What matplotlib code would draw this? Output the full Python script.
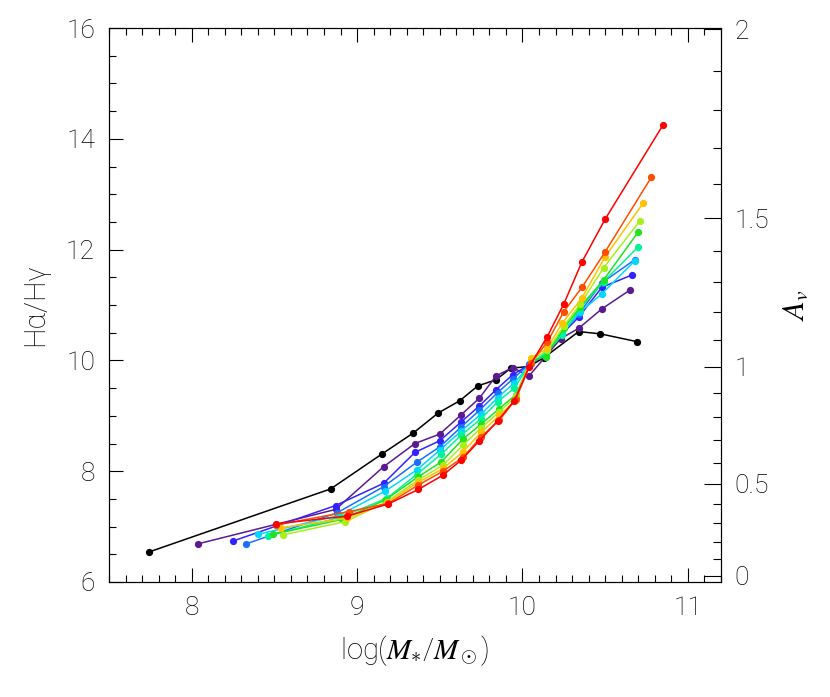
import numpy as np
import matplotlib
matplotlib.use("Agg")
import matplotlib.pyplot as plt
from matplotlib.ticker import MultipleLocator, FixedLocator

# series colours, black first then rainbow purple -> red
colors = ["black", "#5b1a8f", "#3322ff", "#1a6fff", "#00d8ff", "#00f59a",
          "#1fe31f", "#a6f01e", "#ffc200", "#ff4d00", "#ff0000"]

x_black = [7.74, 8.84, 9.15, 9.34, 9.49, 9.62, 9.73, 9.84, 9.93, 10.04, 10.13, 10.34, 10.47, 10.69]
y_black = [6.54, 7.68, 8.31, 8.69, 9.05, 9.27, 9.54, 9.65, 9.86, 9.89, 10.05, 10.52, 10.48, 10.34]

x_purple = [8.04, 8.87, 9.16, 9.35, 9.50, 9.63, 9.74, 9.84, 9.94, 10.04, 10.23, 10.34, 10.48, 10.65]
y_purple = [6.69, 7.31, 8.08, 8.50, 8.67, 9.02, 9.32, 9.72, 9.87, 9.72, 10.39, 10.58, 10.93, 11.27]

x_blue = [8.25, 8.87, 9.16, 9.35, 9.50, 9.63, 9.74, 9.84, 9.94, 10.04, 10.14, 10.23, 10.34, 10.48, 10.66]
y_blue = [6.74, 7.38, 7.78, 8.34, 8.55, 8.89, 9.18, 9.47, 9.74, 9.92, 10.10, 10.45, 10.78, 11.32, 11.54]

x_dblue = [8.33, 8.88, 9.16, 9.36, 9.50, 9.63, 9.74, 9.85, 9.94, 10.04, 10.14, 10.24, 10.34, 10.48, 10.68]
y_dblue = [6.69, 7.25, 7.72, 8.16, 8.44, 8.80, 9.10, 9.42, 9.66, 9.93, 10.12, 10.48, 10.84, 11.40, 11.82]

x_cyan = [8.40, 8.89, 9.17, 9.36, 9.50, 9.63, 9.75, 9.85, 9.95, 10.05, 10.14, 10.24, 10.35, 10.48, 10.68]
y_cyan = [6.86, 7.20, 7.64, 8.02, 8.38, 8.73, 9.03, 9.33, 9.59, 9.94, 10.13, 10.50, 10.88, 11.20, 11.80]

x_sgreen = [8.46, 8.90, 9.18, 9.36, 9.51, 9.63, 9.75, 9.85, 9.95, 10.05, 10.14, 10.24, 10.35, 10.49, 10.70]
y_sgreen = [6.83, 7.17, 7.51, 7.94, 8.31, 8.65, 8.95, 9.25, 9.50, 9.96, 10.12, 10.46, 10.95, 11.42, 12.05]

x_green = [8.49, 8.91, 9.17, 9.37, 9.51, 9.64, 9.75, 9.86, 9.96, 10.05, 10.14, 10.25, 10.35, 10.49, 10.70]
y_green = [6.86, 7.13, 7.48, 7.90, 8.17, 8.58, 8.85, 9.13, 9.38, 9.98, 10.07, 10.58, 10.97, 11.45, 12.32]

x_ygreen = [8.55, 8.93, 9.18, 9.37, 9.52, 9.64, 9.75, 9.86, 9.96, 10.05, 10.15, 10.25, 10.35, 10.49, 10.71]
y_ygreen = [6.85, 7.09, 7.45, 7.84, 8.11, 8.47, 8.78, 9.07, 9.35, 10.00, 10.18, 10.62, 11.02, 11.67, 12.52]

x_gold = [8.54, 8.94, 9.18, 9.37, 9.52, 9.64, 9.75, 9.86, 9.96, 10.05, 10.15, 10.24, 10.36, 10.50, 10.73]
y_gold = [6.98, 7.15, 7.43, 7.80, 8.05, 8.35, 8.70, 9.01, 9.28, 10.04, 10.22, 10.67, 11.13, 11.87, 12.84]

x_orange = [8.51, 8.95, 9.19, 9.37, 9.52, 9.64, 9.75, 9.86, 9.96, 10.05, 10.15, 10.25, 10.36, 10.50, 10.78]
y_orange = [7.03, 7.27, 7.42, 7.75, 8.00, 8.25, 8.62, 8.92, 9.30, 9.95, 10.33, 10.88, 11.32, 11.96, 13.31]

x_red = [8.51, 8.94, 9.19, 9.37, 9.52, 9.63, 9.74, 9.85, 9.95, 10.04, 10.15, 10.25, 10.36, 10.50, 10.85]
y_red = [7.05, 7.19, 7.41, 7.67, 7.93, 8.20, 8.55, 8.91, 9.27, 9.88, 10.43, 11.02, 11.78, 12.55, 14.25]

xs = [x_black, x_purple, x_blue, x_dblue, x_cyan, x_sgreen, x_green, x_ygreen, x_gold, x_orange, x_red]
ys = [y_black, y_purple, y_blue, y_dblue, y_cyan, y_sgreen, y_green, y_ygreen, y_gold, y_orange, y_red]

# A_v scale on the right: A_v = k*log10(ratio/R0)
av_major = [0, 0.5, 1, 1.5, 2]
av_labels = ["0", "0.5", "1", "1.5", "2"]
R0 = 6.11
k = 4.79

plt.rcParams['font.family'] = ['Roboto', 'DejaVu Sans']
plt.rcParams['font.weight'] = 'light'
plt.rcParams['axes.labelweight'] = 'light'
plt.rcParams['mathtext.fontset'] = 'custom'
plt.rcParams['mathtext.rm'] = 'Roboto:light'
plt.rcParams['mathtext.it'] = 'STIXGeneral:italic'
plt.rcParams['mathtext.sf'] = 'DejaVu Sans'

fig = plt.figure(figsize=(8.3, 6.97), dpi=100)
ax = fig.add_axes([0.1313, 0.165, 0.7373, 0.7948])

for x, y, c in zip(xs, ys, colors):
    ax.plot(x, y, '-o', color=c, lw=1.1, ms=4.2, mec=c, mfc=c)

ax.set_xlim(7.5, 11.2)
ax.set_ylim(6, 16)
ax.xaxis.set_major_locator(MultipleLocator(1))
ax.xaxis.set_minor_locator(MultipleLocator(0.1))
ax.yaxis.set_major_locator(MultipleLocator(2))
ax.yaxis.set_minor_locator(MultipleLocator(0.5))
ax.tick_params(axis='x', which='both', direction='in', top=True, labelsize=19, pad=10)
ax.tick_params(axis='y', which='both', direction='in', right=False, labelsize=19, pad=10)
ax.tick_params(which='major', length=10, width=0.8)
ax.tick_params(which='minor', length=5, width=0.8)
for s in ax.spines.values():
    s.set_linewidth(0.8)

ax.set_xlabel(r'log($M_{\ast}/M_\odot$)', fontsize=21, labelpad=10)
ax.set_ylabel('H\u03b1/H\u03b3', fontsize=21, labelpad=12)

ax2 = ax.twinx()
ax2.set_ylim(6, 16)
av_minor = np.arange(0, 2.01, 0.1)
ax2.yaxis.set_major_locator(FixedLocator([R0 * 10 ** (a / k) for a in av_major]))
ax2.yaxis.set_minor_locator(FixedLocator([R0 * 10 ** (a / k) for a in av_minor]))
ax2.set_yticklabels(av_labels)
ax2.tick_params(axis='y', which='both', direction='in', labelsize=19, pad=10)
ax2.tick_params(which='major', length=12, width=0.8)
ax2.tick_params(which='minor', length=6, width=0.8)
ax2.set_ylabel(r'$A_v$', fontsize=22, labelpad=8)

fig.savefig("out.png", dpi=100)
